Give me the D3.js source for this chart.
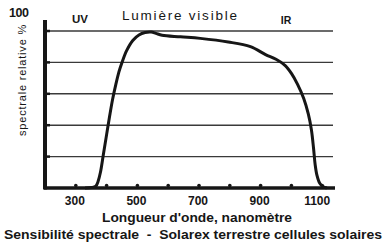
<!DOCTYPE html>
<html>
<head>
  <title>Sensibilite spectrale</title>
  <script src="https://d3js.org/d3.v7.min.js"></script>
  <style>
    body { margin: 0; background: #fff; }
    svg { display: block; font-family: "Liberation Sans", Arial, sans-serif; }
  </style>
</head>
<body>
  <div id="chart"></div>
  <script type="text/javascript">
    // wavelength (nm) and relative spectral response (%)
    var wavelength = [330, 352, 365, 372, 380, 390, 400, 410, 420, 430, 440, 450, 465, 485, 505, 525, 545, 560, 580, 640, 704, 795, 867, 916, 950, 980, 1000, 1020, 1040, 1055, 1065, 1072, 1077, 1083, 1092, 1102, 1115]
    var response = [0, 0.3, 1.2, 4, 10, 22, 34, 46, 57, 66, 74, 80, 87.5, 94, 97.5, 99, 99.3, 98.5, 97.3, 96.3, 95.3, 93, 90, 85, 82, 78, 73, 66, 57, 47, 37, 25, 15, 8, 3, 1, 0]
    var xTicks = [300, 400, 500, 600, 700, 800, 900, 1000, 1100]
    var xLabels = [300, 500, 700, 900, 1100]
    var yGrid = [20, 40, 60, 80, 100]

    var width = 388, height = 247
    var svg = d3.select("#chart").append("svg").attr("width", width).attr("height", height)
    var ink = "#161616"

    var x = d3.scaleLinear().domain([200, 1135]).range([45, 333])
    var y = d3.scaleLinear().domain([0, 100]).range([188, 31])

    // grid lines
    svg.selectAll(".grid").data(yGrid).enter().append("line")
      .attr("x1", x(200)).attr("x2", x(1135))
      .attr("y1", d => y(d)).attr("y2", d => y(d))
      .attr("stroke", "#3a3a3a").attr("stroke-width", 1.4)

    // left stubs at grid lines
    svg.selectAll(".stub").data(yGrid).enter().append("line")
      .attr("x1", x(200)).attr("x2", x(200) + 5)
      .attr("y1", d => y(d)).attr("y2", d => y(d))
      .attr("stroke", ink).attr("stroke-width", 2.5)

    // bottom axis and left axis
    svg.append("line").attr("x1", x(200) - 1).attr("x2", x(1135) + 2)
      .attr("y1", y(0)).attr("y2", y(0))
      .attr("stroke", ink).attr("stroke-width", 3.5)
    svg.append("line").attr("x1", x(200)).attr("x2", x(200))
      .attr("y1", 20).attr("y2", y(0) + 1.5)
      .attr("stroke", ink).attr("stroke-width", 4)

    // tick bumps above the bottom axis
    svg.selectAll(".tick").data(xTicks).enter().append("circle")
      .attr("cx", d => x(d)).attr("cy", y(0) - 2.5).attr("r", 1.8)
      .attr("fill", ink)

    svg.selectAll(".xlabel").data(xLabels).enter().append("text")
      .attr("x", d => x(d) - (d > 1000 ? 5 : 1)).attr("y", 205)
      .attr("text-anchor", "middle")
      .attr("font-size", 12).attr("font-weight", "bold").attr("fill", ink)
      .text(d => d)

    // response curve
    var line = d3.line()
      .x((d, i) => x(wavelength[i]))
      .y(d => y(d))
      .curve(d3.curveCatmullRom.alpha(0.5))
    svg.append("path").datum(response)
      .attr("d", line)
      .attr("fill", "none").attr("stroke", ink).attr("stroke-width", 3)
      .attr("stroke-linejoin", "round")

    // texts
    svg.append("text").attr("x", 9).attr("y", 17)
      .attr("font-size", 12.5).attr("font-weight", "bold").attr("fill", ink)
      .attr("letter-spacing", -0.5)
      .text("100")
    svg.append("text").attr("x", 80).attr("y", 23).attr("text-anchor", "middle")
      .attr("font-size", 11.5).attr("font-weight", "bold").attr("fill", ink)
      .text("UV")
    svg.append("text").attr("x", 122).attr("y", 20)
      .attr("font-size", 13.5).attr("fill", ink)
      .attr("textLength", 115).attr("lengthAdjust", "spacing")
      .text("Lumière visible")
    svg.append("text").attr("x", 286).attr("y", 24).attr("text-anchor", "middle")
      .attr("font-size", 10.5).attr("font-weight", "bold").attr("fill", ink)
      .text("IR")
    svg.append("text")
      .attr("transform", "translate(26,80) rotate(-90)")
      .attr("text-anchor", "middle")
      .attr("font-size", 11).attr("letter-spacing", 0.8).attr("fill", ink)
      .text("spectrale relative %")
    svg.append("text").attr("x", 102).attr("y", 222)
      .attr("font-size", 12.5).attr("font-weight", "bold").attr("fill", ink)
      .attr("textLength", 190).attr("lengthAdjust", "spacingAndGlyphs")
      .text("Longueur d'onde, nanomètre")
    svg.append("text").attr("x", 4).attr("y", 239)
      .attr("font-size", 12).attr("font-weight", "bold").attr("fill", ink)
      .attr("xml:space", "preserve")
      .attr("textLength", 378).attr("lengthAdjust", "spacingAndGlyphs")
      .text("Sensibilité spectrale  -  Solarex terrestre cellules solaires")
  </script>
</body>
</html>
